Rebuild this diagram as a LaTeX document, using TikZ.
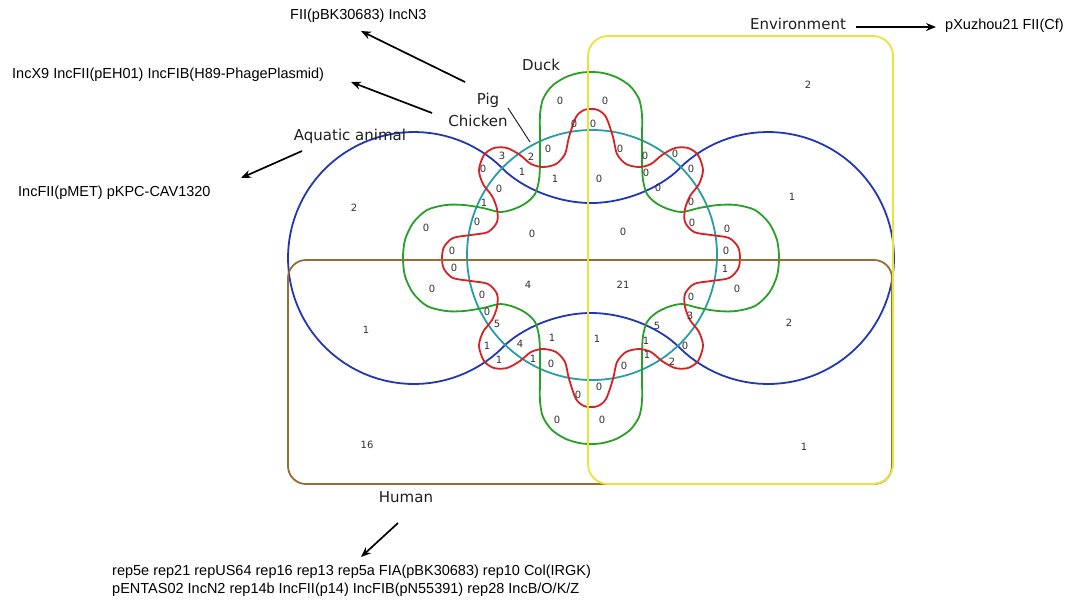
\documentclass[tikz,border=0pt]{standalone}
\usepackage{fontspec}
\setmainfont{DejaVu Sans}
\newfontfamily\arialf{Liberation Sans}
\usetikzlibrary{arrows.meta}
\definecolor{cblue}{RGB}{33,56,178}
\definecolor{cteal}{RGB}{40,158,164}
\definecolor{cgreen}{RGB}{40,160,40}
\definecolor{cred}{RGB}{214,34,36}
\definecolor{cbrown}{RGB}{153,108,51}
\definecolor{cyellow}{RGB}{232,228,60}
\definecolor{numgray}{RGB}{50,50,50}
\tikzset{
  setline/.style={line width=1.8pt},
  num/.style={font=\fontsize{10}{11}\selectfont, text=numgray, inner sep=0pt},
  lbl/.style={font=\fontsize{15}{18}\selectfont, text=black!88, inner sep=0pt},
  plas/.style={font=\arialf\fontsize{14.5}{18}\selectfont, text=black, inner sep=0pt, anchor=west},
  arr/.style={line width=1.7pt, -{Stealth[length=10pt,width=8pt]}},
}
\begin{document}
\begin{tikzpicture}[x=1pt,y=-1pt]
\fill[white] (0,0) rectangle (1073,606);
\path[use as bounding box] (0,0) rectangle (1073,606);
\begin{scope}[shift={(591,258)}, setline]
  % Aquatic animal (blue peanut)
  \draw[cblue] (-88,-89) .. controls (-70,-71) and (-35,-55) .. (0,-55)
     .. controls (35,-55) and (70,-71) .. (88,-89)
     -- plot[domain=-135:135,samples=80] ({177+126*cos(\x)},{126*sin(\x)})
     .. controls (70,71) and (35,55) .. (0,55)
     .. controls (-35,55) and (-70,71) .. (-88,89)
     -- plot[domain=45:315,samples=80] ({-177+126*cos(\x)},{126*sin(\x)}) -- cycle;
  % Chicken (teal circle)
  \draw[cteal] (1,-3) circle[radius=125];
  % Duck (green)
  \draw[cgreen] plot[smooth cycle, tension=0.5] coordinates {
    (-188,0) (-186,-18) (-178,-35) (-164,-48) (-145,-53) (-127,-53) (-108,-50) (-91,-46) (-77,-49) (-65,-55) (-56,-64) (-52,-78) (-51,-95) (-51,-120) (-51,-143) (-48,-159) (-39,-172) (-25,-181) (-9,-185.5)
    (9,-185.5) (25,-181) (39,-172) (48,-159) (51,-143) (51,-120) (51,-95) (52,-78) (56,-64) (65,-55) (77,-49) (91,-46) (108,-50) (127,-53) (145,-53) (164,-48) (178,-35) (186,-18) (188,0)
    (186,18) (178,35) (164,48) (145,53) (127,53) (108,50) (91,46) (77,49) (65,55) (56,64) (52,78) (51,95) (51,120) (51,143) (48,159) (39,172) (25,181) (9,185.5)
    (-9,185.5) (-25,181) (-39,172) (-48,159) (-51,143) (-51,120) (-51,95) (-52,78) (-56,64) (-65,55) (-77,49) (-91,46) (-108,50) (-127,53) (-145,53) (-164,48) (-178,35) (-186,18)};
  % Pig (red)
  \draw[cred] plot[smooth cycle, tension=0.5] coordinates {
    (-149,0) (-147,-11) (-138,-20) (-120,-23) (-103,-26) (-94,-36) (-94,-49) (-99,-62) (-108,-74) (-112,-88) (-107,-103) (-97,-110) (-84,-110) (-71,-103) (-60,-94) (-48,-91) (-35,-94) (-26,-104) (-22,-121) (-15,-141) (-7,-148) (0,-149)
    (7,-148) (15,-141) (22,-121) (26,-104) (35,-94) (48,-91) (60,-94) (71,-103) (84,-110) (97,-110) (107,-103) (112,-88) (108,-74) (99,-62) (94,-49) (94,-36) (103,-26) (120,-23) (138,-20) (147,-11) (149,0)
    (147,11) (138,20) (120,23) (103,26) (94,36) (94,49) (99,62) (108,74) (112,88) (107,103) (97,110) (84,110) (71,103) (60,94) (48,91) (35,94) (26,104) (22,121) (15,141) (7,148) (0,149)
    (-7,148) (-15,141) (-22,121) (-26,104) (-35,94) (-48,91) (-60,94) (-71,103) (-84,110) (-97,110) (-107,103) (-112,88) (-108,74) (-99,62) (-94,49) (-94,36) (-103,26) (-120,23) (-138,20) (-147,11)};
\end{scope}
% Human and Environment rectangles
\draw[cbrown, setline, rounded corners=18pt] (288,260) rectangle (892,484);
\draw[cyellow, setline, rounded corners=20pt] (588,36) rectangle (893,484);

% region counts
\foreach \px/\py/\t [count=\i] in {
  808/85/2, 792/197/1, 354/208/2, 366/330/1, 367/445/16, 789/323/2, 804/447/1,
  560/101/0, 605/101/0, 574/124/0, 593/124/0, 502/156/3, 531/157/2, 548/149/0,
  483/169/0, 522/172/1, 555/179/1, 599/179/0, 499/189/0, 484/203/1, 477/222/0,
  620/149/0, 645/156/0, 675/154/0, 646/173/0, 691/169/0, 658/188/0, 691/202/0,
  692/223/0, 727/229/0, 726/251/0, 725/269/1, 737/289/0, 691/297/0, 690/316/3,
  685/346/0, 426/228/0, 532/234/0, 623/232/0, 452/251/0, 454/268/0, 432/289/0,
  528/285/4, 623/285/21, 482/295/0, 487/312/0, 497/324/5, 487/346/1, 520/344/4,
  552/338/1, 499/360/1, 533/359/1, 551/364/0, 597/339/1, 624/366/0, 599/387/0,
  578/395/0, 557/420/0, 602/420/0, 657/326/5, 646/341/1, 647/355/1, 672/362/2}
  \node[num] (n\i) at (\px,\py) {\t};

% set labels
\node[lbl] (duck) at (541,65) {Duck};
\node[lbl] (pig) at (488,100) {Pig};
\node[lbl] (chicken) at (478,121) {Chicken};
\node[lbl] (aqua) at (350,136) {Aquatic animal};
\node[lbl] (human) at (406,497) {Human};
\node[lbl] (env) at (798,24) {Environment};

% plasmid lists
\node[plas] (tEnv) at (945,26) {pXuzhou21 FII(Cf)};
\node[plas] (tPig) at (290,16) {FII(pBK30683) IncN3};
\node[plas] (tChk) at (12,75) {IncX9 IncFII(pEH01) IncFIB(H89-PhagePlasmid)};
\node[plas] (tAqua) at (18,193) {IncFII(pMET) pKPC-CAV1320};
\node[plas] (tHum1) at (112,572) {rep5e rep21 repUS64 rep16 rep13 rep5a FIA(pBK30683) rep10 Col(IRGK)};
\node[plas] (tHum2) at (112,590) {pENTAS02 IncN2 rep14b IncFII(p14) IncFIB(pN55391) rep28 IncB/O/K/Z};

% arrow end points
\coordinate (a1s) at (465,82);  \coordinate (a1e) at (361,31);
\coordinate (a2s) at (432,113); \coordinate (a2e) at (351,82);
\coordinate (a3s) at (302,151); \coordinate (a3e) at (241,178);
\coordinate (a4s) at (856,27);  \coordinate (a4e) at (936,27);
\coordinate (a5s) at (398,523); \coordinate (a5e) at (361,557);
\coordinate (ps) at (508,108);  \coordinate (pe) at (530,142);
\draw[arr] (a1s) -- (a1e);
\draw[arr] (a2s) -- (a2e);
\draw[arr] (a3s) -- (a3e);
\draw[arr] (a4s) -- (a4e);
\draw[arr] (a5s) -- (a5e);
\draw[line width=1pt, black!85] (ps) -- (pe);
\end{tikzpicture}
\end{document}
